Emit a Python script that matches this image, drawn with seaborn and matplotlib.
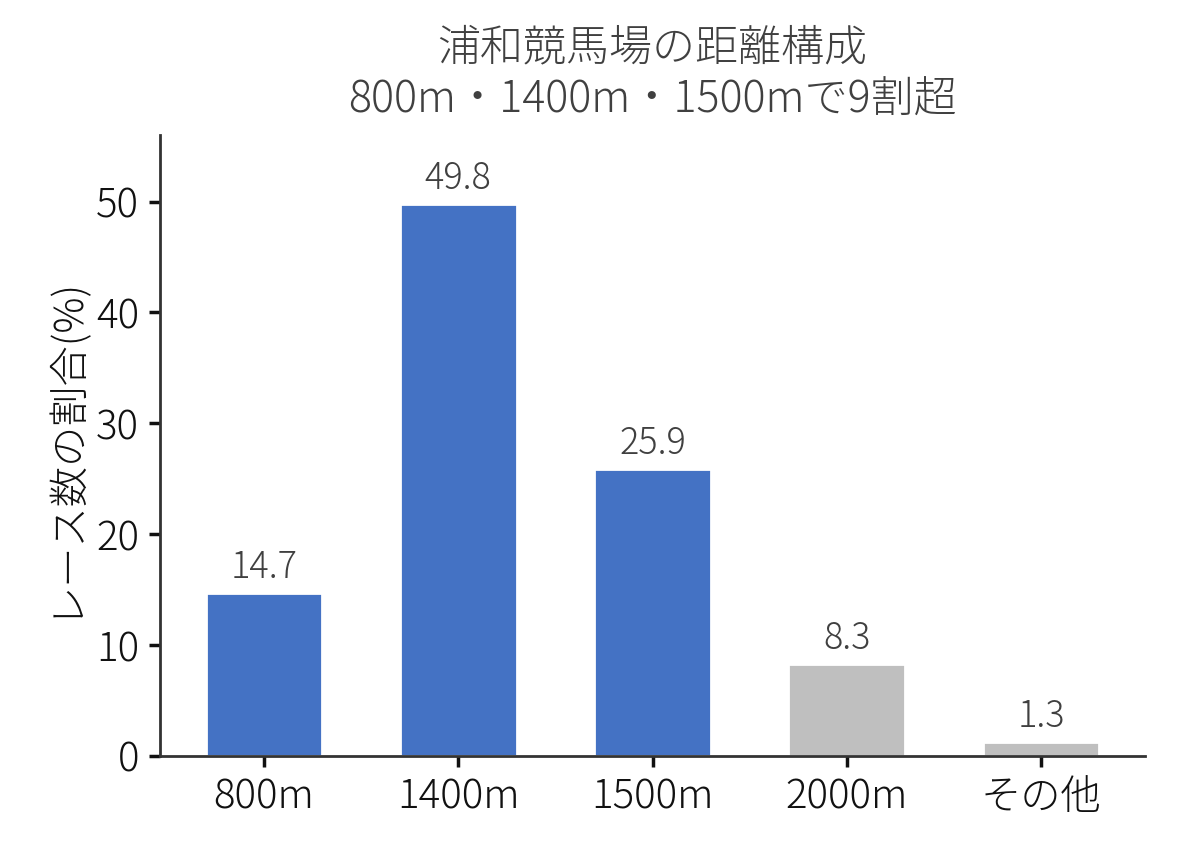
import matplotlib
matplotlib.use("Agg")
import matplotlib.pyplot as plt
import seaborn as sns
import pandas as pd

categories = ["800m", "1400m", "1500m", "2000m", "その他"]
values = [14.7, 49.8, 25.9, 8.3, 1.3]
colors = ["#4472C4", "#4472C4", "#4472C4", "#BFBFBF", "#BFBFBF"]
title = "浦和競馬場の距離構成\n800m・1400m・1500mで9割超"
ylabel = "レース数の割合(%)"

sns.set_theme(style="ticks")
plt.rcParams['font.family'] = ['Noto Sans CJK JP', 'DejaVu Sans']
plt.rcParams['font.weight'] = 'light'

df = pd.DataFrame({"cat": categories, "val": values})

fig = plt.figure(figsize=(5.94, 4.29), dpi=200)
ax = fig.add_axes([160/1188, 1-756/858, (1145-160)/1188, (756-135)/858])
sns.barplot(data=df, x="cat", y="val", hue="cat", palette=colors, width=0.6,
            legend=False, ax=ax, saturation=1)
for i, v in enumerate(values):
    ax.annotate(f"{v:.1f}", (i, v), xytext=(0, 2), textcoords="offset points",
                ha="center", va="bottom", fontsize=13, color="#404040",
                fontweight="light")
ax.set_xlim(-0.535, 4.535)
ax.set_ylim(0, 56)
ax.set_xlabel("")
ax.set_ylabel(ylabel, fontsize=14.5, color="#111111", fontweight="light")
ax.set_title(title, fontsize=15.5, color="#404040", pad=8, fontweight="light")
ax.tick_params(axis="both", labelsize=14.5, colors="#111111", length=4)
for lab in ax.get_xticklabels() + ax.get_yticklabels():
    lab.set_fontweight("light")
sns.despine(ax=ax)
for s in ["left", "bottom"]:
    ax.spines[s].set_color("#333333")
    ax.spines[s].set_linewidth(1.0)
fig.savefig("out.png", dpi=200)
